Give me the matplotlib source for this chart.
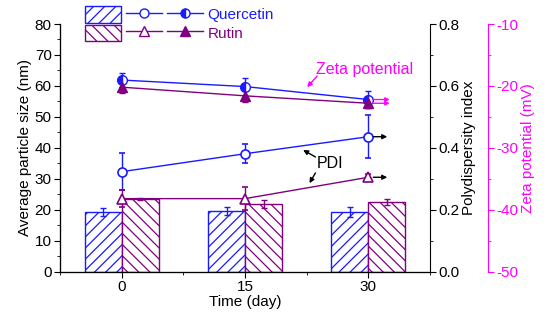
import matplotlib
matplotlib.use("Agg")
import matplotlib.pyplot as plt
from matplotlib.patches import Patch
from matplotlib.lines import Line2D
from matplotlib.legend_handler import HandlerTuple
from matplotlib.ticker import MultipleLocator, FormatStrFormatter

plt.rcParams['font.family'] = ['Liberation Sans', 'DejaVu Sans']
plt.rcParams['font.size'] = 11
plt.rcParams['hatch.linewidth'] = 0.9
plt.rcParams['axes.unicode_minus'] = False

days = [0, 15, 30]
q_size = [19.3, 19.6, 19.4]
q_size_err = [1.2, 1.2, 1.6]
r_size = [23.4, 22.0, 22.6]
r_size_err = [0.3, 1.3, 0.9]
q_pdi = [0.323, 0.381, 0.436]
q_pdi_err = [0.06, 0.03, 0.07]
r_pdi = [0.236, 0.236, 0.305]
r_pdi_err = [0.027, 0.038, 0.012]
q_zeta = [-19.05, -20.1, -22.2]
q_zeta_err = [1.2, 1.45, 1.3]
r_zeta = [-20.2, -21.6, -22.8]
r_zeta_err = [1.0, 1.0, 0.8]

BLUE = '#1a1aff'
PURPLE = '#800080'
MAG = '#ff00ff'

fig = plt.figure(figsize=(5.5, 3.22), dpi=100)
ax = fig.add_axes([60/550, 1-271.7/322, 370/550, (271.7-24)/322])
bw = 4.5
qx = [d - bw/2 for d in days]
rx = [d + bw/2 for d in days]
ax.bar(qx, q_size, width=bw, facecolor='white', edgecolor=BLUE, hatch='///', lw=1)
ax.bar(rx, r_size, width=bw, facecolor='white', edgecolor=PURPLE, hatch='\\\\\\', lw=1)
ax.errorbar(qx, q_size, yerr=q_size_err, fmt='none', ecolor=BLUE, capsize=2, elinewidth=1)
ax.errorbar(rx, r_size, yerr=r_size_err, fmt='none', ecolor=PURPLE, capsize=2, elinewidth=1)
ax.set_xlim(-7.5, 37.5)
ax.set_ylim(0, 80)
ax.set_xticks(days)
ax.xaxis.set_minor_locator(MultipleLocator(7.5))
ax.yaxis.set_major_locator(MultipleLocator(10))
ax.yaxis.set_minor_locator(MultipleLocator(5))
ax.spines['top'].set_visible(False)
ax.spines['right'].set_visible(False)
ax.tick_params(axis='both', which='major', length=4, direction='out', pad=2)
ax.tick_params(axis='both', which='minor', length=2.5, direction='out')
ax.set_xlabel('Time (day)', labelpad=1)
ax.set_ylabel('Average particle size (nm)', labelpad=2)

# PDI axis
ax2 = ax.twinx()
ax2.set_ylim(0, 0.8)
ax2.yaxis.set_major_locator(MultipleLocator(0.2))
ax2.yaxis.set_minor_locator(MultipleLocator(0.1))
ax2.yaxis.set_major_formatter(FormatStrFormatter('%.1f'))
ax2.spines['top'].set_visible(False)
ax2.tick_params(axis='y', which='major', length=4, pad=2)
ax2.tick_params(axis='y', which='minor', length=2.5)
ax2.set_ylabel('Polydispersity index', labelpad=2)
ax2.errorbar(days, q_pdi, yerr=q_pdi_err, color=BLUE, marker='o', ms=6.5, mfc='white',
             mec=BLUE, mew=1.2, capsize=2, lw=1)
ax2.errorbar(days, r_pdi, yerr=r_pdi_err, color=PURPLE, marker='^', ms=7, mfc='white',
             mec=PURPLE, mew=1.2, capsize=2, lw=1)
for yv in (q_pdi[-1], r_pdi[-1]):
    ax2.annotate('', xy=(32.3, yv), xytext=(30.6, yv),
                 arrowprops=dict(arrowstyle='-|>', color='black', lw=1, mutation_scale=7,
                                 shrinkA=0, shrinkB=0))

# Zeta axis
ax3 = ax.twinx()
ax3.spines['right'].set_position(('axes', 1.157))
ax3.spines['right'].set_color(MAG)
ax3.spines['top'].set_visible(False)
ax3.set_ylim(-50, -10)
ax3.yaxis.set_major_locator(MultipleLocator(10))
ax3.yaxis.set_minor_locator(MultipleLocator(5))
ax3.tick_params(axis='y', which='both', colors=MAG)
ax3.tick_params(axis='y', which='major', length=4, pad=2)
ax3.tick_params(axis='y', which='minor', length=2.5)
ax3.set_ylabel('Zeta potential (mV)', color=MAG, labelpad=2)
ax3.errorbar(days, q_zeta, yerr=q_zeta_err, color=BLUE, marker='o', ms=7, mfc=BLUE,
             mfcalt='white', fillstyle='left', mec=BLUE, capsize=2, lw=1)
ax3.errorbar(days, r_zeta, yerr=r_zeta_err, color=PURPLE, marker='^', ms=7, mfc=PURPLE,
             mec=PURPLE, capsize=2, lw=1)
for yv in (q_zeta[-1], r_zeta[-1]):
    ax3.annotate('', xy=(32.6, yv), xytext=(30.5, yv),
                 arrowprops=dict(arrowstyle='-|>', color=MAG, lw=1, mutation_scale=6,
                                 shrinkA=0, shrinkB=0))

# Annotations (in left-axis data coords)
ax.text(29.5, 65.4, 'Zeta potential', color=MAG, ha='center', va='center', fontsize=11.5)
ax.annotate('', xy=(22.56, 59.6), xytext=(23.78, 63.2),
            arrowprops=dict(arrowstyle='-|>', color=MAG, lw=1, mutation_scale=7,
                            shrinkA=0, shrinkB=0))
ax.text(25.4, 35.1, 'PDI', ha='center', va='center', fontsize=11.5)
ax.annotate('', xy=(22.07, 39.3), xytext=(23.57, 37.05),
            arrowprops=dict(arrowstyle='-|>', color='black', lw=1, mutation_scale=7,
                            shrinkA=0, shrinkB=0))
ax.annotate('', xy=(22.84, 28.6), xytext=(23.57, 31.9),
            arrowprops=dict(arrowstyle='-|>', color='black', lw=1, mutation_scale=7,
                            shrinkA=0, shrinkB=0))

# Legend
hq = (Patch(facecolor='white', edgecolor=BLUE, hatch='///'),
      Line2D([], [], color=BLUE, marker='o', mfc='white', mec=BLUE, ms=6.5, lw=1),
      Line2D([], [], color=BLUE, marker='o', mfc=BLUE, mfcalt='white', fillstyle='left',
             mec=BLUE, ms=6.5, lw=1))
hr = (Patch(facecolor='white', edgecolor=PURPLE, hatch='\\\\\\'),
      Line2D([], [], color=PURPLE, marker='^', mfc='white', mec=PURPLE, ms=6.5, lw=1),
      Line2D([], [], color=PURPLE, marker='^', mfc=PURPLE, mec=PURPLE, ms=6.5, lw=1))
leg = fig.legend([hq, hr], ['Quercetin', 'Rutin'],
                 handler_map={tuple: HandlerTuple(ndivide=None, pad=0.3)},
                 loc='upper left', bbox_to_anchor=(82/550, 1-3/322), frameon=False,
                 borderaxespad=0, handlelength=7.7, handleheight=1.3, handletextpad=0.3,
                 labelspacing=0.12, borderpad=0.2, fontsize=11)
leg.get_texts()[0].set_color(BLUE)
leg.get_texts()[1].set_color(PURPLE)

fig.savefig('out.png', dpi=100)
